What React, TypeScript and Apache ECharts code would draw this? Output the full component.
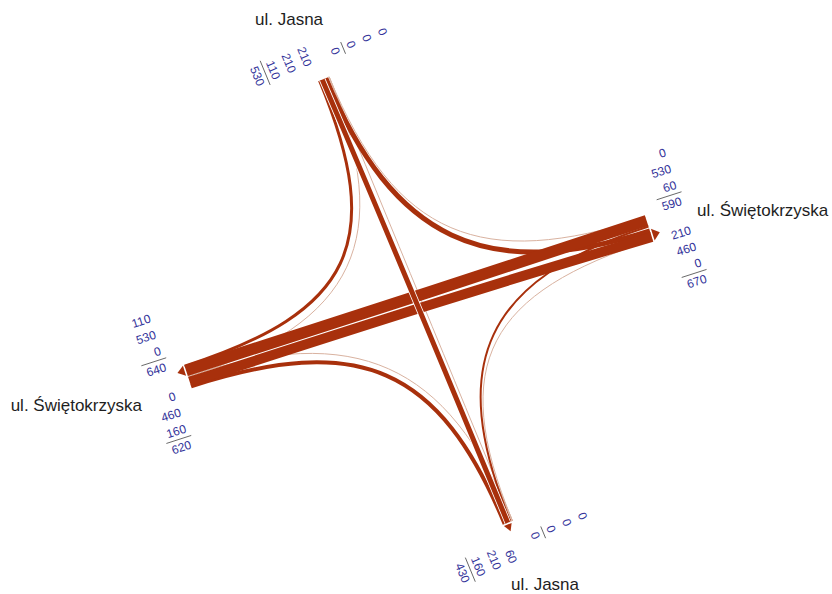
import React, { useEffect, useRef } from 'react';
import * as echarts from 'echarts';

// Junction approaches in compass order, with the street each belongs to
const armKeys = ['N', 'E', 'S', 'W'];
const armStreets = ['ul. Jasna', 'ul. Świętokrzyska', 'ul. Jasna', 'ul. Świętokrzyska'];

// Turning movements: approach entered from, approach left by, vehicles
const flowFrom = ['N', 'N', 'N', 'E', 'E', 'E', 'S', 'S', 'S', 'W', 'W', 'W'];
const flowTo = ['W', 'S', 'E', 'N', 'W', 'S', 'E', 'N', 'W', 'S', 'E', 'N'];
const flowVeh = [110, 210, 210, 0, 530, 60, 0, 0, 0, 160, 460, 0];

// Drawing geometry (chart units equal screen pixels)
const CENTER = [421.3, 301.4];
const ARM_ANGLE: Record<string, number> = { N: -112.44, E: -17.87, S: 67.56, W: 162.16 };
const ARM_LEN: Record<string, number> = { N: 242.8, E: 239.2, S: 237.6, W: 245.1 };
const READ_ANGLE: Record<string, number> = { N: 67.56, S: 67.56, E: -17.87, W: -17.87 };
const PX_PER_VEH = 0.02;
const MIN_WIDTH = 0.8;
const STACK = 0.78; // neighbouring strands overlap where they bundle into a lane
const LANE_GAP = 1;
const PULL = 0.72;

const RED = '#a8300c';
const FAINT = '#d9b2a0';
const NUM_COLOR = '#33339a';
const NUM_FONT = '12px "Liberation Sans", Arial, sans-serif';
const NAME_FONT = '17px "Liberation Sans", Arial, sans-serif';
const DIGIT_W = 6.7;
const LINE_H = 17;

const NAME_POS: Record<string, { dx: number; dy: number; align: string }> = {
  N: { dx: -39.6, dy: -57, align: 'center' },
  E: { dx: 48, dy: -17, align: 'left' },
  S: { dx: 33, dy: 63, align: 'center' },
  W: { dx: -46, dy: 29.5, align: 'right' },
};

const rad = (deg: number) => (deg * Math.PI) / 180;
const outward = (arm: string) => [Math.cos(rad(ARM_ANGLE[arm])), Math.sin(rad(ARM_ANGLE[arm]))];
// point at a distance from the centre along an arm, shifted sideways by lat
const armPoint = (arm: string, dist: number, lat: number) => {
  const [ox, oy] = outward(arm);
  return [CENTER[0] + dist * ox - lat * oy, CENTER[1] + dist * oy + lat * ox];
};

const strandWidth = (v: number) => (v > 0 ? v * PX_PER_VEH + MIN_WIDTH : 0);
// 1 = left turn, 2 = straight on, 3 = right turn
const turnOf = (f: string, t: string) => (armKeys.indexOf(t) - armKeys.indexOf(f) + 4) % 4;

type Strand = {
  from: string; to: string; v: number; w: number; d: number;
  latFrom: number; latTo: number; outlined: boolean;
};

const strands: Strand[] = flowVeh.map((v, i) => {
  const d = turnOf(flowFrom[i], flowTo[i]);
  return {
    from: flowFrom[i], to: flowTo[i], v, w: strandWidth(v), d,
    latFrom: 0, latTo: 0,
    outlined: d === 2 && (flowFrom[i] === 'N' || flowFrom[i] === 'S') && v > 0,
  };
});

// outer edge of each lane, entry lanes on the left of the axis, exit lanes on the right
const laneEdge: Record<string, { in: number; out: number }> = {};
armKeys.forEach((a) => {
  laneEdge[a] = { in: 0, out: 0 };
  let cum = LANE_GAP / 2;
  strands.filter((s) => s.from === a).sort((x, y) => x.d - y.d).forEach((s) => {
    s.latFrom = -(cum + s.w / 2);
    laneEdge[a].in = Math.max(laneEdge[a].in, cum + s.w);
    cum += s.w * STACK;
  });
  cum = LANE_GAP / 2;
  strands.filter((s) => s.to === a).sort((x, y) => x.d - y.d).forEach((s) => {
    s.latTo = cum + s.w / 2;
    laneEdge[a].out = Math.max(laneEdge[a].out, cum + s.w);
    cum += s.w * STACK;
  });
});

const drawOrder = strands
  .map((s, i) => i)
  .sort((a, b) => {
    const ka = (strands[a].v > 0 ? 1 : 0) + (strands[a].outlined ? 1 : 0);
    const kb = (strands[b].v > 0 ? 1 : 0) + (strands[b].outlined ? 1 : 0);
    return ka - kb;
  });

// number blocks: entering and leaving traffic of every approach
type Block = { arm: string; dir: 'in' | 'out'; lines: string[] };
const blocks: Block[] = [];
armKeys.forEach((a) => {
  (['in', 'out'] as const).forEach((dir) => {
    const o = outward(a);
    const ra = rad(READ_ANGLE[a]);
    const n = [-Math.sin(ra), Math.cos(ra)];
    const pn = -o[1] * n[0] + o[0] * n[1];
    const list = strands
      .filter((s) => (dir === 'in' ? s.from === a : s.to === a))
      .map((s) => ({ v: s.v, d: s.d, key: (dir === 'in' ? -s.d : s.d) * pn }))
      .sort((x, y) => x.key - y.key);
    const total = list.reduce((acc, s) => acc + s.v, 0);
    blocks.push({ arm: a, dir, lines: [...list.map((s) => String(s.v)), String(total)] });
  });
});

export default function App() {
  const ref = useRef<HTMLDivElement>(null);

  useEffect(() => {
    if (!ref.current) return;
    const chart = echarts.init(ref.current, undefined, { renderer: 'svg' });

    const strandSeries = {
      type: 'custom',
      coordinateSystem: 'cartesian2d',
      data: drawOrder.map((i) => [i, flowVeh[i]]),
      renderItem: (params: any, api: any) => {
        const s = strands[drawOrder[params.dataIndex]];
        // straight movements keep to the inner of their two end offsets through the junction
        const inner = Math.min(Math.abs(s.latFrom), Math.abs(s.latTo));
        const cFrom = s.d === 2 ? Math.sign(s.latFrom) * inner : s.latFrom;
        const cTo = s.d === 2 ? Math.sign(s.latTo) * inner : s.latTo;
        const p0 = api.coord(armPoint(s.from, ARM_LEN[s.from], s.latFrom));
        const p1 = api.coord(armPoint(s.from, ARM_LEN[s.from] * (1 - PULL), cFrom));
        const p2 = api.coord(armPoint(s.to, ARM_LEN[s.to] * (1 - PULL), cTo));
        const p3 = api.coord(armPoint(s.to, ARM_LEN[s.to], s.latTo));
        const shape = {
          x1: p0[0], y1: p0[1], cpx1: p1[0], cpy1: p1[1],
          cpx2: p2[0], cpy2: p2[1], x2: p3[0], y2: p3[1],
        };
        const children: any[] = [];
        if (s.outlined) {
          children.push({ type: 'bezierCurve', shape, style: { stroke: '#ffffff', lineWidth: s.w + 1.6, fill: null } });
        }
        children.push({
          type: 'bezierCurve',
          shape,
          style: { stroke: s.v > 0 ? RED : FAINT, lineWidth: s.v > 0 ? s.w : 1, fill: null, lineCap: 'butt' },
        });
        return { type: 'group', children };
      },
    };

    const arrowSeries = {
      type: 'custom',
      coordinateSystem: 'cartesian2d',
      data: armKeys.map((a, i) => [i, 0]),
      renderItem: (params: any, api: any) => {
        const a = armKeys[params.dataIndex];
        const edge = laneEdge[a].out;
        if (edge <= LANE_GAP / 2) return { type: 'group', children: [] };
        const L = ARM_LEN[a];
        const span = edge - LANE_GAP / 2;
        const lo = LANE_GAP / 2 + span * 0.06;
        const hi = LANE_GAP / 2 + span * 0.94;
        const pts = [
          api.coord(armPoint(a, L + 1.6, lo)),
          api.coord(armPoint(a, L + 1.6, hi)),
          api.coord(armPoint(a, L + 9, (lo + hi) / 2)),
        ];
        return { type: 'polygon', shape: { points: pts }, style: { fill: RED } };
      },
    };

    const numberSeries = {
      type: 'custom',
      coordinateSystem: 'cartesian2d',
      data: blocks.map((b, i) => [i, 0]),
      renderItem: (params: any, api: any) => {
        const b = blocks[params.dataIndex];
        const end = api.coord(armPoint(b.arm, ARM_LEN[b.arm], 0));
        const ra = rad(READ_ANGLE[b.arm]);
        const r = [Math.cos(ra), Math.sin(ra)];
        const n = [-Math.sin(ra), Math.cos(ra)];
        const o = outward(b.arm);
        const pn = -o[1] * n[0] + o[0] * n[1];
        const ro = r[0] * o[0] + r[1] * o[1];
        const side = (b.dir === 'in' ? -1 : 1) * Math.sign(pn);
        const nOff = side > 0 ? 14.6 : -67;
        const gw = Math.max(...b.lines.map((t) => t.length)) * DIGIT_W;
        const rOff = ro > 0 ? 19 + gw : -18;
        const children: any[] = b.lines.map((t, i) => ({
          type: 'text',
          x: 0,
          y: i * LINE_H,
          style: {
            text: t, fill: NUM_COLOR, font: NUM_FONT,
            align: 'right', verticalAlign: 'middle', textAlign: 'right', textVerticalAlign: 'middle',
          },
        }));
        children.push({
          type: 'line',
          shape: { x1: -(gw + 3), y1: 2.5 * LINE_H, x2: 3, y2: 2.5 * LINE_H },
          style: { stroke: '#555555', lineWidth: 0.8 },
        });
        return {
          type: 'group',
          x: end[0] + rOff * r[0] + nOff * n[0],
          y: end[1] + rOff * r[1] + nOff * n[1],
          rotation: -ra,
          children,
        };
      },
    };

    const nameSeries = {
      type: 'custom',
      coordinateSystem: 'cartesian2d',
      data: armKeys.map((a, i) => [i, 0]),
      renderItem: (params: any, api: any) => {
        const a = armKeys[params.dataIndex];
        const end = api.coord(armPoint(a, ARM_LEN[a], 0));
        const pos = NAME_POS[a];
        return {
          type: 'text',
          x: end[0] + pos.dx,
          y: end[1] + pos.dy,
          style: {
            text: armStreets[params.dataIndex], fill: '#1e1e1e', font: NAME_FONT,
            align: pos.align, verticalAlign: 'middle', textAlign: pos.align, textVerticalAlign: 'middle',
          },
        };
      },
    };

    chart.setOption({
      animation: false,
      backgroundColor: '#ffffff',
      grid: { left: 0, right: 0, top: 0, bottom: 0 },
      xAxis: { type: 'value', min: 0, max: 832, show: false },
      yAxis: { type: 'value', min: 0, max: 594, inverse: true, show: false },
      series: [strandSeries, arrowSeries, numberSeries, nameSeries],
    });

    return () => chart.dispose();
  }, []);

  return (
    <div
      ref={ref}
      style={{ position: 'fixed', left: 0, top: 0, width: 832, height: 594, background: '#ffffff' }}
    />
  );
}
